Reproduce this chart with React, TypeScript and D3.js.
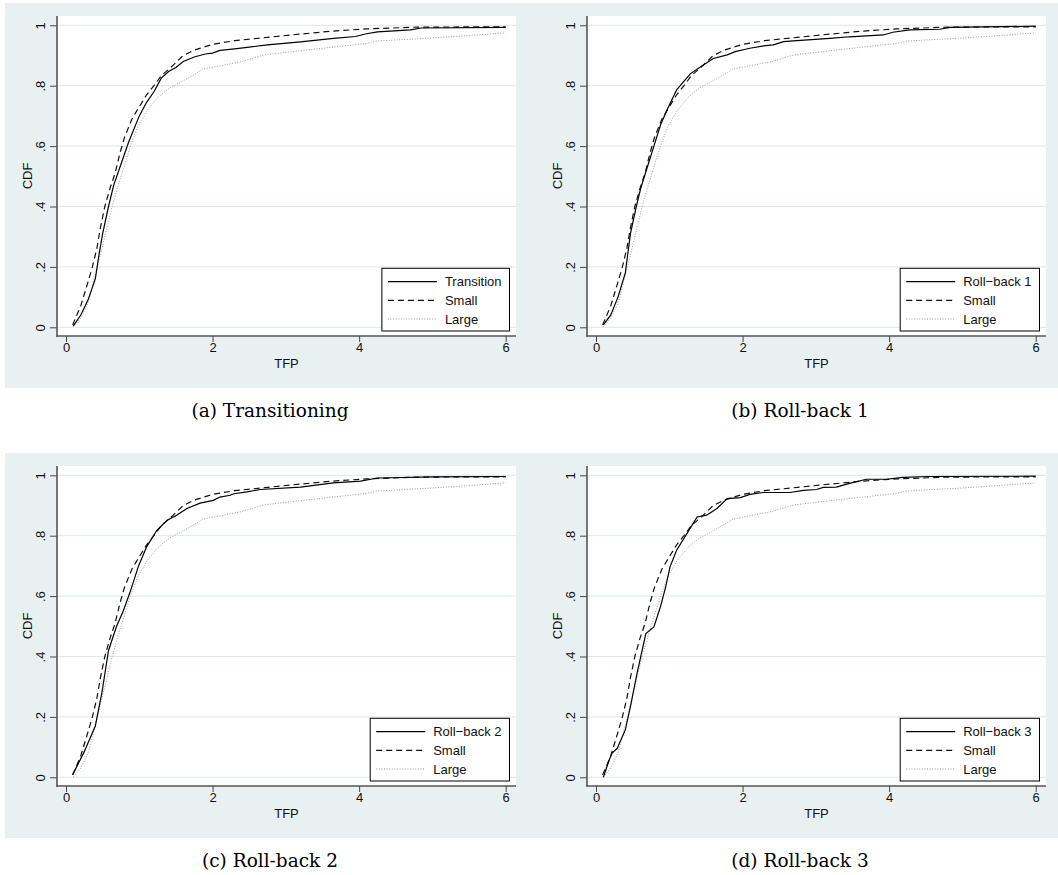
import React, { useEffect, useRef } from "react";
import * as d3 from "d3";

// tick values
const tfpTicks = [0, 2, 4, 6];
const cdfTicks = [0, 0.2, 0.4, 0.6, 0.8, 1];

const captions = ["(a) Transitioning", "(b) Roll-back 1", "(c) Roll-back 2", "(d) Roll-back 3"];
const mainLabels = ["Transition", "Roll\u2212back 1", "Roll\u2212back 2", "Roll\u2212back 3"];

// [TFP, CDF] pairs
const smallCdf: [number, number][] = [
  [0.09, 0.008], [0.2, 0.07], [0.3, 0.15], [0.36, 0.2], [0.42, 0.26], [0.47, 0.33], [0.53, 0.4],
  [0.6, 0.46], [0.67, 0.51], [0.74, 0.58], [0.8, 0.63], [0.9, 0.69], [1.0, 0.73], [1.1, 0.77],
  [1.2, 0.8], [1.3, 0.833], [1.45, 0.865], [1.6, 0.9], [1.75, 0.918], [2.0, 0.937], [2.3, 0.949],
  [2.75, 0.96], [3.2, 0.971], [3.65, 0.981], [4.1, 0.988], [4.8, 0.994], [6.0, 0.995],
];

const largeCdf: [number, number][] = [
  [0.1, 0.002], [0.2, 0.03], [0.3, 0.08], [0.43, 0.2], [0.55, 0.32], [0.63, 0.4], [0.75, 0.5],
  [0.88, 0.6], [0.98, 0.665], [1.1, 0.715], [1.25, 0.76], [1.4, 0.79], [1.55, 0.81], [1.7, 0.83],
  [1.87, 0.855], [2.1, 0.866], [2.4, 0.88], [2.7, 0.902], [3.2, 0.916], [3.65, 0.928], [4.1, 0.94],
  [4.25, 0.948], [5.0, 0.958], [5.5, 0.966], [6.0, 0.975],
];

const transitionCdf: [number, number][] = [
  [0.1, 0.005], [0.2, 0.04], [0.3, 0.09], [0.4, 0.16], [0.45, 0.24], [0.5, 0.31], [0.58, 0.4],
  [0.65, 0.47], [0.75, 0.54], [0.85, 0.61], [1.0, 0.7], [1.1, 0.745], [1.2, 0.78], [1.3, 0.825],
  [1.4, 0.847], [1.5, 0.86], [1.6, 0.88], [1.75, 0.895], [1.9, 0.905], [2.0, 0.908], [2.1, 0.917],
  [2.3, 0.922], [2.5, 0.928], [2.75, 0.935], [3.2, 0.945], [3.65, 0.957], [3.95, 0.963], [4.1, 0.972],
  [4.25, 0.978], [4.7, 0.985], [4.85, 0.991], [6.0, 0.993],
];

const rollback1Cdf: [number, number][] = [
  [0.1, 0.008], [0.2, 0.04], [0.3, 0.1], [0.4, 0.18], [0.47, 0.31], [0.55, 0.4], [0.61, 0.46],
  [0.7, 0.53], [0.79, 0.6], [0.88, 0.67], [0.97, 0.72], [1.1, 0.786], [1.29, 0.84], [1.47, 0.869],
  [1.6, 0.89], [1.79, 0.902], [1.9, 0.913], [2.1, 0.924], [2.29, 0.932], [2.42, 0.935], [2.56, 0.946],
  [2.74, 0.949], [3.19, 0.957], [3.46, 0.962], [3.92, 0.968], [4.05, 0.977], [4.28, 0.985],
  [4.69, 0.987], [4.83, 0.993], [6.0, 0.997],
];

const rollback2Cdf: [number, number][] = [
  [0.09, 0.008], [0.24, 0.08], [0.4, 0.17], [0.49, 0.28], [0.58, 0.42], [0.69, 0.5], [0.78, 0.55],
  [0.87, 0.61], [0.99, 0.7], [1.1, 0.763], [1.24, 0.818], [1.38, 0.851], [1.51, 0.868], [1.65, 0.89],
  [1.83, 0.908], [2.01, 0.917], [2.1, 0.928], [2.24, 0.934], [2.29, 0.939], [2.47, 0.945],
  [2.65, 0.953], [3.2, 0.961], [3.65, 0.975], [4.02, 0.981], [4.25, 0.991], [5.02, 0.995], [6.0, 0.996],
];

const rollback3Cdf: [number, number][] = [
  [0.1, 0.0], [0.18, 0.057], [0.22, 0.08], [0.29, 0.096], [0.4, 0.157], [0.47, 0.234], [0.56, 0.344],
  [0.68, 0.476], [0.79, 0.498], [0.88, 0.565], [0.95, 0.63], [1.01, 0.697], [1.1, 0.752],
  [1.24, 0.807], [1.38, 0.862], [1.51, 0.868], [1.65, 0.89], [1.79, 0.923], [1.97, 0.926],
  [2.1, 0.937], [2.28, 0.943], [2.65, 0.943], [2.83, 0.95], [3.01, 0.953], [3.1, 0.96], [3.28, 0.961],
  [3.46, 0.973], [3.69, 0.987], [3.96, 0.987], [4.19, 0.993], [4.55, 0.996], [6.0, 0.997],
];

const mainSeries = [transitionCdf, rollback1Cdf, rollback2Cdf, rollback3Cdf];

const App = () => {
  const ref = useRef<SVGSVGElement>(null);

  useEffect(() => {
    drawChart();
  }, []);

  const drawChart = () => {
    const svg = d3.select(ref.current);
    svg.selectAll("*").remove();
    const sans = "'Liberation Sans', Arial, sans-serif";

    // graph region backgrounds (two rows)
    [0, 1].forEach((row) => {
      svg.append("rect")
        .attr("x", 5).attr("y", 3 + row * 450)
        .attr("width", 1053).attr("height", 385)
        .attr("fill", "#e9f0f2");
    });

    const x = d3.scaleLinear().domain([0, 6]).range([66, 505.7]);
    const y = d3.scaleLinear().domain([0, 1]).range([327.3, 25.3]);
    const line = d3.line<[number, number]>().x((d) => x(d[0])).y((d) => y(d[1]));

    const plotL = 57, plotR = 516, plotT = 16, plotB = 336;

    mainSeries.forEach((series, i) => {
      const col = i % 2, row = Math.floor(i / 2);
      const g = svg.append("g").attr("transform", `translate(${col * 530},${row * 450})`);

      // plot region
      g.append("rect")
        .attr("x", plotL).attr("y", plotT)
        .attr("width", plotR - plotL).attr("height", plotB - plotT)
        .attr("fill", "#fff");

      // gridlines
      g.selectAll(".grid").data(cdfTicks).enter().append("line")
        .attr("x1", plotL).attr("x2", plotR)
        .attr("y1", (d) => y(d)).attr("y2", (d) => y(d))
        .attr("stroke", "#dde7ec").attr("stroke-width", 1);

      // y axis
      const yAxis = g.append("g").attr("transform", `translate(${plotL},0)`)
        .call(d3.axisLeft(y).tickValues(cdfTicks).tickSize(7).tickSizeOuter(0)
          .tickFormat((d) => (d === 0 ? "0" : d === 1 ? "1" : String(+d).replace("0.", "."))));
      yAxis.select(".domain").remove();
      yAxis.selectAll("line").attr("stroke", "#444");
      yAxis.selectAll("text")
        .attr("transform", "rotate(-90)")
        .attr("x", 0).attr("y", -12).attr("dy", 0)
        .attr("text-anchor", "middle")
        .attr("font-family", sans).attr("font-size", 13).attr("fill", "#111");

      // x axis
      const xAxis = g.append("g").attr("transform", `translate(0,${plotB})`)
        .call(d3.axisBottom(x).tickValues(tfpTicks).tickSize(6).tickSizeOuter(0)
          .tickFormat(d3.format("d")));
      xAxis.select(".domain").remove();
      xAxis.selectAll("line").attr("stroke", "#444");
      xAxis.selectAll("text")
        .attr("y", 7).attr("dy", "0.71em")
        .attr("font-family", sans).attr("font-size", 13).attr("fill", "#111");

      // axis lines
      g.append("line").attr("x1", plotL).attr("x2", plotL).attr("y1", plotT).attr("y2", plotB + 0.8)
        .attr("stroke", "#555").attr("stroke-width", 1.6);
      g.append("line").attr("x1", plotL - 0.8).attr("x2", plotR).attr("y1", plotB).attr("y2", plotB)
        .attr("stroke", "#555").attr("stroke-width", 1.6);

      // axis titles
      g.append("text").attr("x", (plotL + plotR) / 2).attr("y", 367.5)
        .attr("text-anchor", "middle").attr("font-family", sans).attr("font-size", 13)
        .attr("fill", "#111").text("TFP");
      g.append("text").attr("transform", `translate(31.5,${(plotT + plotB) / 2}) rotate(-90)`)
        .attr("text-anchor", "middle").attr("font-family", sans).attr("font-size", 13)
        .attr("fill", "#111").text("CDF");

      // curves
      g.append("path").attr("d", line(largeCdf)).attr("fill", "none")
        .attr("stroke", "#9a9a9a").attr("stroke-width", 1).attr("stroke-dasharray", "1,1.6");
      g.append("path").attr("d", line(smallCdf)).attr("fill", "none")
        .attr("stroke", "#111").attr("stroke-width", 1.2).attr("stroke-dasharray", "6,4");
      g.append("path").attr("d", line(series)).attr("fill", "none")
        .attr("stroke", "#000").attr("stroke-width", 1.2);

      // legend
      const legRight = 509.5, legTop = 268.3, legBottom = 331;
      const leg = g.append("g");
      const box = leg.append("rect").attr("y", legTop).attr("height", legBottom - legTop)
        .attr("fill", "#fff").attr("stroke", "#000").attr("stroke-width", 1);
      const items = [
        { label: mainLabels[i], color: "#000", dash: null, w: 1.2 },
        { label: "Small", color: "#111", dash: "6,4", w: 1.2 },
        { label: "Large", color: "#9a9a9a", dash: "1,1.6", w: 1 },
      ];
      const rowY = [281.7, 300.3, 319];
      const texts = items.map((it, k) =>
        leg.append("text").attr("y", rowY[k] + 4.7)
          .attr("font-family", sans).attr("font-size", 13).attr("fill", "#111").text(it.label)
      );
      const maxW = d3.max(texts, (t) => (t.node() as SVGTextElement).getComputedTextLength()) || 60;
      const legLeft = legRight - (6 + 49 + 8 + maxW + 8);
      box.attr("x", legLeft).attr("width", legRight - legLeft);
      items.forEach((it, k) => {
        const l = leg.append("line")
          .attr("x1", legLeft + 6).attr("x2", legLeft + 55)
          .attr("y1", rowY[k]).attr("y2", rowY[k])
          .attr("stroke", it.color).attr("stroke-width", it.w);
        if (it.dash) l.attr("stroke-dasharray", it.dash);
        texts[k].attr("x", legLeft + 63);
      });

      // caption under the panel
      g.append("text").attr("x", 270).attr("y", 416.7)
        .attr("text-anchor", "middle")
        .attr("font-family", "'DejaVu Serif', serif").attr("font-size", 18.5)
        .attr("fill", "#000").text(captions[i]);
    });
  };

  return (
    <div style={{ position: "absolute", left: 0, top: 0 }}>
      <svg ref={ref} width={1058} height={875} style={{ display: "block", background: "#fff" }} />
    </div>
  );
};

export default App;
